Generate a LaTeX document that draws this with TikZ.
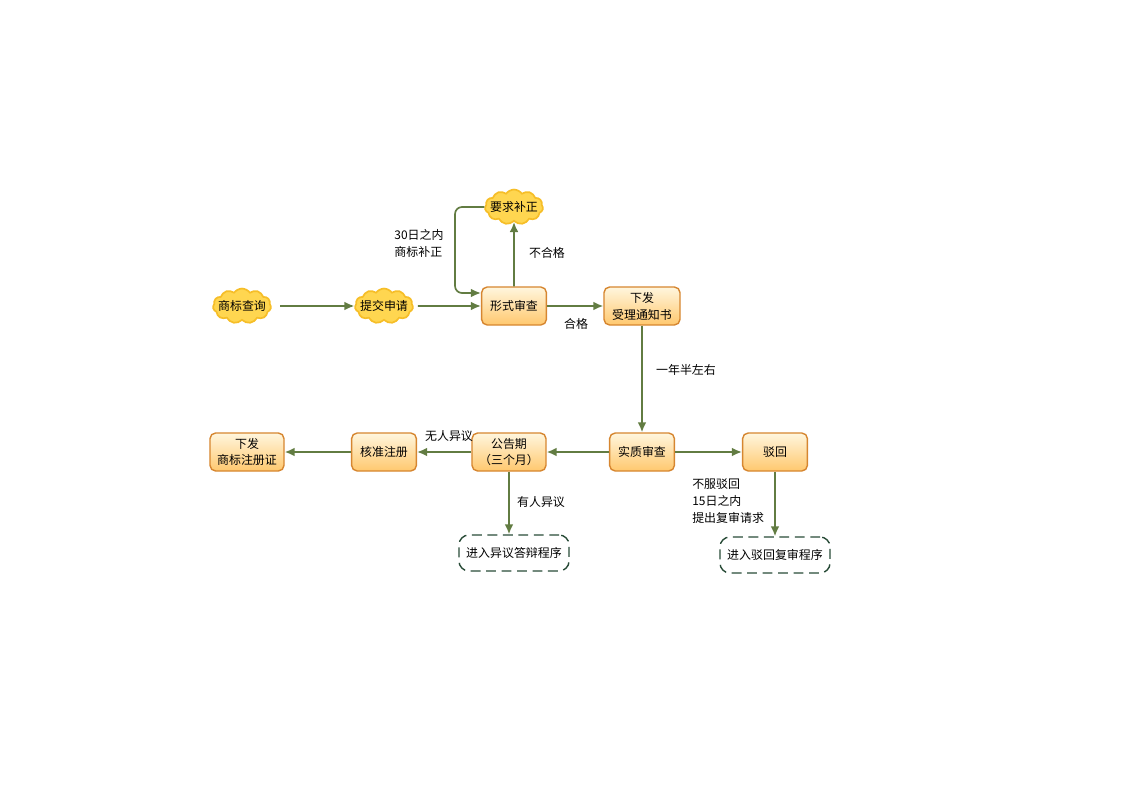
\documentclass[tikz,border=0pt]{standalone}
\usepackage{fontspec}
\setmainfont{Noto Sans CJK SC}
\usetikzlibrary{arrows.meta,shapes.symbols}
\definecolor{flowgreen}{RGB}{98,124,66}
\definecolor{boxedge}{RGB}{214,134,48}
\definecolor{boxtop}{RGB}{255,246,222}
\definecolor{boxbot}{RGB}{255,200,110}
\definecolor{cloudfill}{RGB}{255,214,80}
\definecolor{cloudedge}{RGB}{246,190,40}
\definecolor{waitedge}{RGB}{40,75,55}

\begin{document}
\begin{tikzpicture}[x=0.025cm,y=-0.025cm,>={Latex[length=2.5mm,width=2.2mm]},
  font=\fontsize{8.5}{12}\selectfont,
  stepbox/.style={draw=boxedge,line width=1pt,rounded corners=4pt,top color=boxtop,
    bottom color=boxbot,minimum width=1.62cm,minimum height=0.95cm,align=center,inner sep=1pt},
  puff/.style={cloud,cloud puffs=11,cloud puff arc=110,aspect=2,draw=cloudedge,line width=1.2pt,
    fill=cloudfill,inner xsep=-3pt,inner ysep=-1pt,minimum width=1.45cm,minimum height=0.85cm},
  waitbox/.style={draw=waitedge,line width=1pt,dash pattern=on 7pt off 4pt,rounded corners=7pt,
    minimum width=2.75cm,minimum height=0.9cm},
  flow/.style={->,draw=flowgreen,line width=1.2pt},
  note/.style={align=left,inner sep=0pt}]
  \useasboundingbox (0,0) rectangle (1123,794);
  % upper row: application and formal check
  \node[puff] (query) at (242,306) {商标查询};
  \node[puff] (apply) at (384,306) {提交申请};
  \node[puff] (amend) at (514,207) {要求补正};
  \node[stepbox] (formal) at (514,306) {形式审查};
  \node[stepbox,minimum width=1.9cm] (notice) at (642,306) {下发\\受理通知书};
  \draw[flow,shorten <=6pt] (query) -- (apply);
  \draw[flow,shorten <=3pt] (apply) -- (formal);
  \draw[flow] (formal) -- (amend);
  \draw[flow,rounded corners=5pt] (amend.west) -- (455,207) -- (455,293) -- (formal.west |- 0,293);
  \draw[flow] (formal) -- (notice);
  \node[note] (lbl30) at (419,243) {30日之内\\商标补正};
  \node[note] (lblbad) at (547,253) {不合格};
  \node[note] (lblok) at (576,324) {合格};
  % lower row: substantive check and announcement
  \node[stepbox] (real) at (642,452) {实质审查};
  \node[stepbox] (reject) at (775,452) {驳回};
  \node[stepbox,minimum width=1.85cm] (announce) at (509,452) {公告期\\（三个月）};
  \node[stepbox] (approve) at (384,452) {核准注册};
  \node[stepbox,minimum width=1.85cm] (cert) at (247,452) {下发\\商标注册证};
  \node[waitbox] (oppose) at (514,553) {进入异议答辩程序};
  \node[waitbox] (review) at (775,555) {进入驳回复审程序};
  \draw[flow] (notice) -- (real);
  \draw[flow] (real) -- (announce);
  \draw[flow] (real) -- (reject);
  \draw[flow] (announce) -- (approve);
  \draw[flow] (approve) -- (cert);
  \draw[flow] (announce.south) -- (announce.south |- oppose.north);
  \draw[flow] (reject.south) -- (reject.south |- review.north);
  \node[note] (lblyear) at (686,370) {一年半左右};
  \node[note] (lblnone) at (449,436) {无人异议};
  \node[note] (lblsome) at (541,502) {有人异议};
  \node[note,anchor=west] (lbl15) at (692,501) {不服驳回\\15日之内\\提出复审请求};
\end{tikzpicture}
\end{document}
